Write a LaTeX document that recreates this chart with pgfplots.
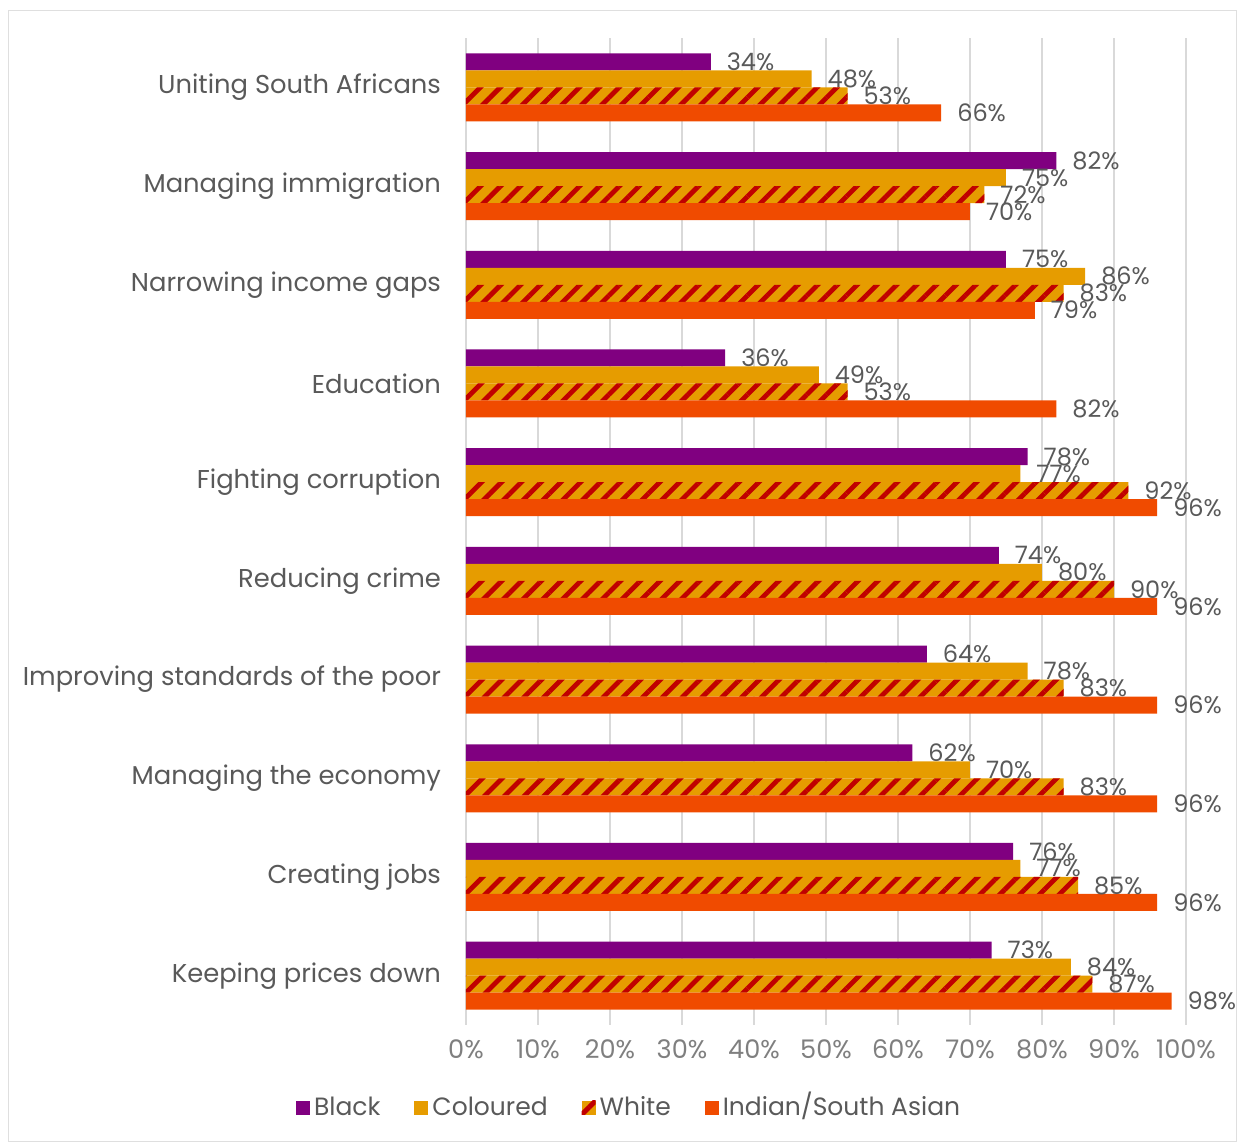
\documentclass[border=0pt]{standalone}
\usepackage{fontspec}
\setmainfont{Poppins}
\usepackage{pgfplots}
\usepackage{pgfplotstable}
\pgfplotsset{compat=1.18}
\usetikzlibrary{patterns.meta}
\definecolor{cBlack}{HTML}{800080}
\definecolor{cCol}{HTML}{E69C00}
\definecolor{cInd}{HTML}{F04B00}
\definecolor{cRed}{HTML}{C00000}
\definecolor{txt}{HTML}{595959}
\definecolor{tickc}{HTML}{7F7F7F}
\definecolor{gridc}{HTML}{D9D9D9}

\pgfplotstableread{
idx black coloured white indian
0 34 48 53 66
1 82 75 72 70
2 75 86 83 79
3 36 49 53 82
4 78 77 92 96
5 74 80 90 96
6 64 78 83 96
7 62 70 83 96
8 76 77 85 96
9 73 84 87 98
}\data

\begin{document}
\begin{tikzpicture}
\begin{axis}[
  name=ax,
  scale only axis, width=360pt, height=493.5pt,
  xbar=0pt, bar width=8.5pt,
  xmin=0, xmax=100, ymin=-0.5, ymax=9.5, y dir=reverse,
  ytick={0,...,9},
  yticklabels={{Uniting South Africans\hspace{4pt}}, Managing immigration, Narrowing income gaps, Education, Fighting corruption, Reducing crime, Improving standards of the poor, Managing the economy, Creating jobs, Keeping prices down},
  xtick={0,10,...,100},
  xticklabel={\pgfmathprintnumber[assume math mode=true]{\tick}\%},
  xmajorgrids, major grid style={gridc, line width=0.8pt},
  axis line style={draw=none},
  major tick length=0pt,
  xticklabel style={color=tickc, yshift=-4pt, font=\fontsize{12.8}{15}\selectfont},
  yticklabel style={color=txt, xshift=-9pt, font=\fontsize{12.9}{15}\selectfont},
  point meta=x,
  nodes near coords={\pgfmathprintnumber[assume math mode=true]{\pgfplotspointmeta}\%},
  every node near coord/.append style={font=\fontsize{12}{14}\selectfont, color=txt, anchor=west, xshift=4.5pt},
  legend columns=4,
  legend style={at={(0.228,-0.086)}, anchor=center, draw=none, fill=none,
    font=\fontsize{12.5}{15}\selectfont, text=txt,
    nodes={text height=9pt, text depth=3pt},
    /tikz/every even column/.append style={column sep=15pt}},
  legend image code/.code={\path[#1,draw=none] (0pt,-2.5pt) rectangle (7pt,4.5pt);},
]
\addplot[fill=cBlack, draw=none, bar shift=12.75pt] table[x=black, y=idx] {\data};
\addlegendentry{Black}
\addplot[fill=cCol, draw=none, bar shift=4.25pt] table[x=coloured, y=idx] {\data};
\addlegendentry{Coloured}
\addplot[fill=cCol, draw=none, bar shift=-4.25pt, postaction={pattern={Lines[angle=45, distance=7pt, line width=2.4pt]}, pattern color=cRed}] table[x=white, y=idx] {\data};
\addlegendentry{White}
\addplot[fill=cInd, draw=none, bar shift=-12.75pt] table[x=indian, y=idx] {\data};
\addlegendentry{Indian/South Asian}
\end{axis}
\draw[gray!25] ([shift={(-229pt,-58.3pt)}]ax.south west) rectangle ([shift={(385.3pt,507.5pt)}]ax.south west);
\pgfresetboundingbox
\path[use as bounding box] ([shift={(-233pt,-58.5pt)}]ax.south west) rectangle ([shift={(385.5pt,512.5pt)}]ax.south west);
\end{tikzpicture}
\end{document}
